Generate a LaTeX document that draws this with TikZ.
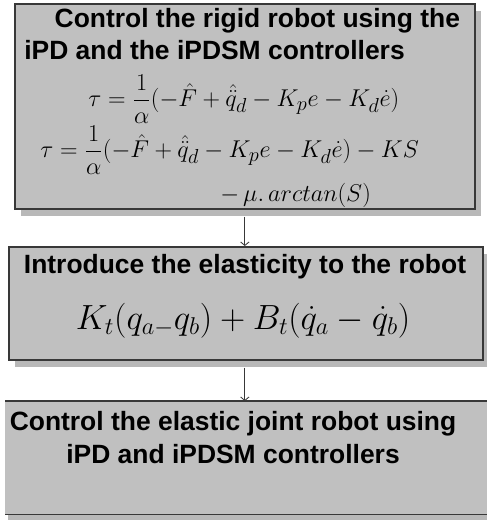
\documentclass[tikz,border=0pt]{standalone}
\usepackage{amsmath}
\usepackage[no-math]{fontspec}
\setsansfont{Liberation Sans}
\usetikzlibrary{positioning,arrows.meta}
\definecolor{boxgray}{HTML}{C0C0C0}
\definecolor{edgegray}{HTML}{383838}

\begin{document}
\begin{tikzpicture}[
    x=0.025cm, y=-0.025cm,
    box/.style={draw=edgegray, line width=1.1pt, fill=boxgray, inner sep=0pt, anchor=north west},
    shade/.style={fill=boxgray!96!black, inner sep=0pt, anchor=north west},
    head/.style={font=\sffamily\bfseries\fontsize{18.8}{22.5}\selectfont, inner sep=0pt},
    eq/.style={font=\fontsize{19}{23}\selectfont, inner sep=0pt},
    arr/.style={-{Straight Barb[length=2.5pt, width=6pt]}, line width=0.6pt, edgegray}
  ]
    \useasboundingbox (0,0) rectangle (487,520);

    % step 1: rigid robot
    \node[shade, minimum width=11.5cm, minimum height=5.125cm] (rigidshadow) at (21,11) {};
    \node[box, minimum width=11.5cm, minimum height=5.125cm] (rigid) at (14,3) {};
    \node[head, anchor=north west, align=left] (rigidhead) at (24,8)
      {\hspace*{1.15em}Control the rigid robot using the\\iPD and the iPDSM controllers};
    \node[eq, anchor=west] (eqipd) at (88,99)
      {$\tau=\dfrac{1}{\alpha}(-\hat{F}+\hat{\ddot{q}}_d-K_pe-K_d\dot{e})$};
    \node[eq, anchor=west] (eqipdsm) at (40,150)
      {$\tau=\dfrac{1}{\alpha}(-\hat{F}+\hat{\ddot{q}}_d-K_pe-K_d\dot{e})-KS$};
    \node[eq, anchor=west] (eqipdsmb) at (220,195) {$-\,\mu.\,arctan(S)$};

    % step 2: elasticity
    \node[shade, minimum width=11.85cm, minimum height=2.825cm] (elasticshadow) at (15,254) {};
    \node[box, minimum width=11.85cm, minimum height=2.825cm] (elastic) at (8,246) {};
    \node[head, anchor=north] (elastichead) at (245,254) {Introduce the elasticity to the robot};
    \node[eq, font=\fontsize{26}{30}\selectfont] (eqspring) at (243,321)
      {$K_t(q_{a-}q_b)+B_t(\dot{q}_a-\dot{q}_b)$};

    % step 3: elastic joint control
    \node[shade, minimum width=12.5cm, minimum height=0.5cm] (controlshadow) at (8,505) {};
    \node[fill=boxgray, inner sep=0pt, anchor=north west, minimum width=12.5cm, minimum height=2.825cm] (control) at (5,401) {};
    \draw[edgegray, line width=1.1pt] (control.north west) -- (control.north east);
    \draw[edgegray, line width=1.1pt] (control.south west) -- (control.south east);
    \node[head, anchor=north, align=center, font=\sffamily\bfseries\fontsize{18.8}{23.5}\selectfont] (controlhead) at (233,411)
      {Control the elastic joint robot using\\iPD and iPDSM controllers};

    \draw[arr] (rigid.south |- rigidshadow.south) -- (rigid.south |- elastic.north);
    \draw[arr] (rigid.south |- elasticshadow.south) -- (rigid.south |- control.north);
\end{tikzpicture}
\end{document}
